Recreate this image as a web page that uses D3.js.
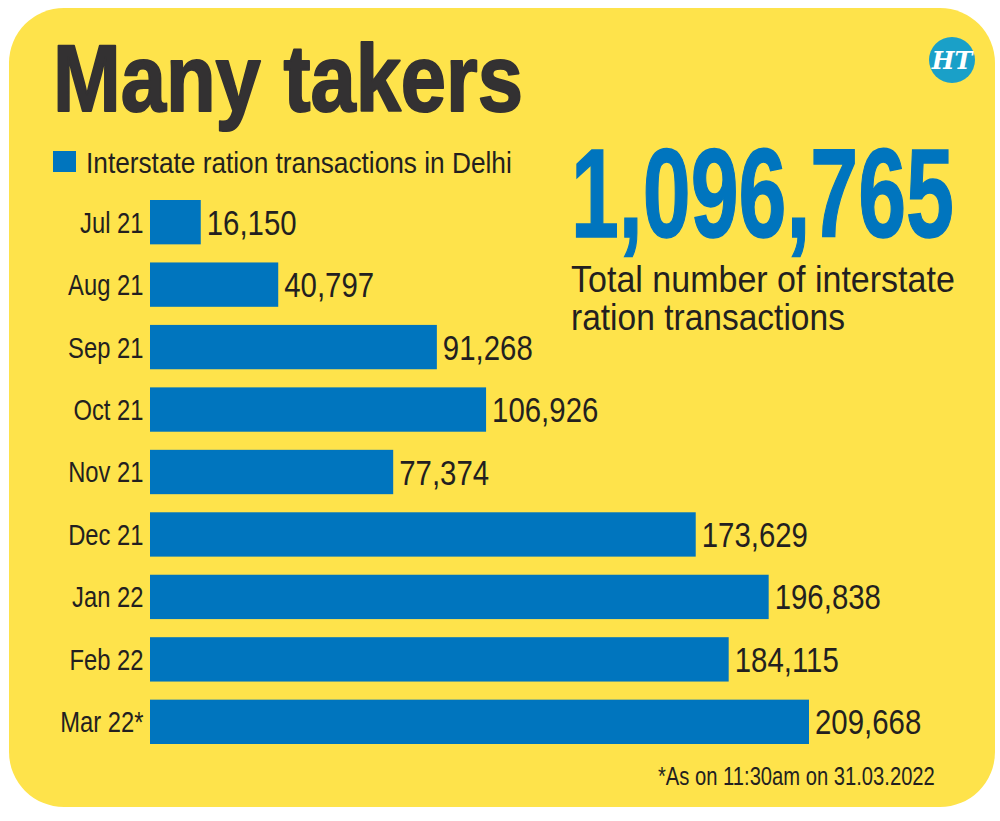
<!DOCTYPE html>
<html>
<head>
<meta charset="utf-8">
<script src="https://cdn.jsdelivr.net/npm/d3@7"></script>
<style>
  html, body { margin: 0; padding: 0; background: #fff; }
  svg { display: block; }
</style>
</head>
<body>
<div id="chart"></div>
<script>
// Many takers — interstate ration transactions in Delhi (horizontal bars)

const months = ["Jul 21", "Aug 21", "Sep 21", "Oct 21", "Nov 21", "Dec 21", "Jan 22", "Feb 22", "Mar 22*"]
const transactions = [16150, 40797, 91268, 106926, 77374, 173629, 196838, 184115, 209668]
const totalTransactions = 1096765

const title = "Many takers"
const legendLabel = "Interstate ration transactions in Delhi"
const totalLines = ["Total number of interstate", "ration transactions"]
const footnote = "*As on 11:30am on 31.03.2022"

const W = 1000, H = 821
const yellow = "#FEE34B"
const blue = "#0075BE"
const ink = "#231F20"
const font = "'Liberation Sans Narrow', 'Liberation Sans', Arial, sans-serif"
const NARROW = 0.84   // pas de police condensée installée : on compresse en x

const rows = months.map((m, i) => ({ month: m, value: transactions[i] }))

const svg = d3.select("#chart")
  .append("svg")
  .attr("width", W)
  .attr("height", H)
  .attr("viewBox", `0 0 ${W} ${H}`)

// Place un texte en (x, y) et le compresse horizontalement jusqu'à la largeur voulue.
function fitText(sel, x, y, width) {
  sel.each(function () {
    const len = this.getComputedTextLength()
    const s = width / len
    d3.select(this).attr("transform", `translate(${x},${y}) scale(${s},1)`)
  })
  return sel
}

// panneau jaune arrondi
svg.append("rect")
  .attr("x", 9).attr("y", 8)
  .attr("width", 986).attr("height", 799)
  .attr("rx", 55).attr("ry", 55)
  .attr("fill", yellow)

// titre (graisse renforcée par un léger contour)
svg.append("text")
  .attr("font-family", font).attr("font-weight", 700)
  .attr("font-size", 95)
  .attr("fill", "#333132")
  .attr("stroke", "#333132").attr("stroke-width", 2).attr("stroke-linejoin", "round")
  .text(title)
  .call(fitText, 53, 111, 470)

// logo HT
svg.append("circle")
  .attr("cx", 952).attr("cy", 60).attr("r", 23)
  .attr("fill", "#1AA0C8")
svg.append("text")
  .attr("x", 952).attr("y", 69)
  .attr("text-anchor", "middle")
  .attr("font-family", "'DejaVu Serif', serif").attr("font-weight", 700)
  .attr("font-style", "italic")
  .attr("font-size", 24)
  .attr("fill", "#fff")
  .text("HT")

// légende
svg.append("rect")
  .attr("x", 53).attr("y", 151)
  .attr("width", 23).attr("height", 21)
  .attr("fill", blue)
svg.append("text")
  .attr("font-family", font).attr("font-size", 29)
  .attr("fill", ink)
  .text(legendLabel)
  .call(fitText, 86, 173, 426)

// total en gros
svg.append("text")
  .attr("font-family", font).attr("font-weight", 700)
  .attr("font-size", 126)
  .attr("fill", blue)
  .attr("stroke", blue).attr("stroke-width", 1.5)
  .text(d3.format(",")(totalTransactions))
  .call(fitText, 571, 237, 383)

totalLines.forEach((line, i) => {
  svg.append("text")
    .attr("font-family", font).attr("font-size", 37)
    .attr("fill", ink)
    .text(line)
    .call(fitText, 571, 292 + i * 38, i === 0 ? 384 : 274)
})

// échelles
const x = d3.scaleLinear()
  .domain([0, d3.max(transactions)])
  .range([150, 809])

const y = d3.scaleBand()
  .domain(months)
  .range([200, 744])
  .paddingInner(0.29)
  .paddingOuter(0)

// barres
svg.append("g")
  .selectAll("rect")
  .data(rows)
  .join("rect")
  .attr("x", x(0))
  .attr("y", (d) => y(d.month))
  .attr("width", (d) => x(d.value) - x(0))
  .attr("height", y.bandwidth())
  .attr("fill", blue)

// valeurs
svg.append("g")
  .selectAll("text")
  .data(rows)
  .join("text")
  .attr("transform", (d) =>
    `translate(${x(d.value) + 6},${y(d.month) + y.bandwidth() / 2 + 12.5}) scale(${NARROW},1)`)
  .attr("font-family", font).attr("font-size", 35)
  .attr("fill", ink)
  .text((d) => d3.format(",")(d.value))

// mois (axe gauche sans trait)
const yAxis = svg.append("g")
  .attr("transform", `translate(${x(0)},0)`)
  .call(d3.axisLeft(y).tickSize(0).tickPadding(8))
yAxis.select(".domain").remove()
yAxis.selectAll("text")
  .attr("font-family", font).attr("font-size", 29)
  .attr("fill", ink)
  .attr("dy", "0.36em")
  .attr("transform", "scale(0.82,1)")

// note
svg.append("text")
  .attr("font-family", font).attr("font-size", 26)
  .attr("fill", ink)
  .text(footnote)
  .call(fitText, 658, 785, 277)
</script>
</body>
</html>
